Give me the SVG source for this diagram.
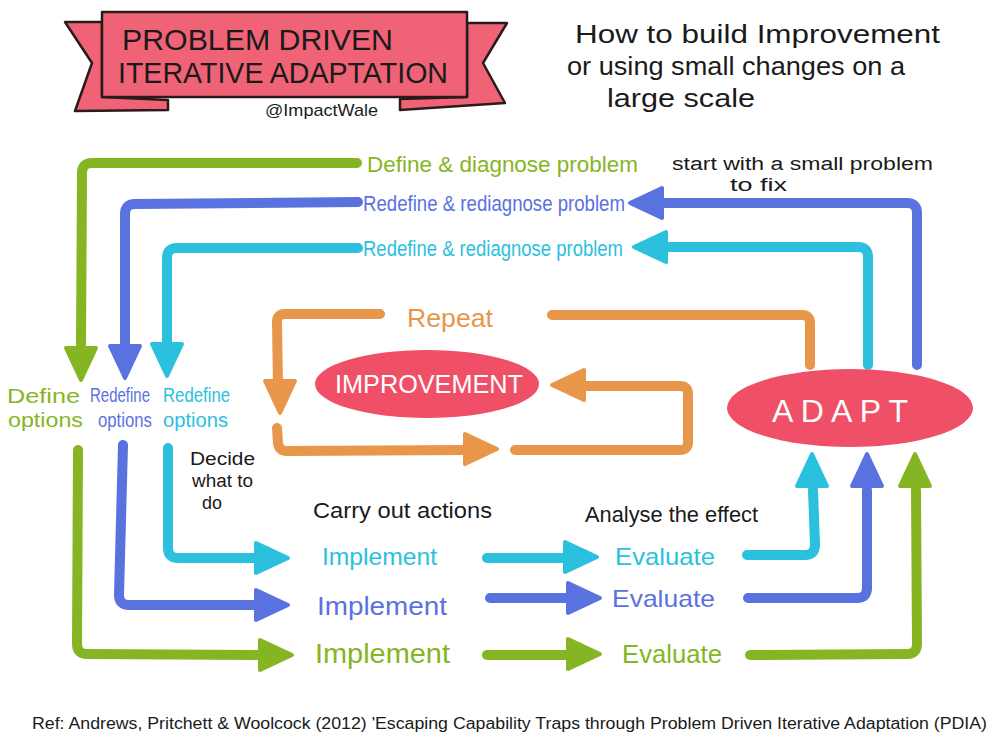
<svg xmlns="http://www.w3.org/2000/svg" width="1000" height="752" viewBox="0 0 1000 752">
<style>
text{font-family:"Liberation Sans","DejaVu Sans",sans-serif;}
.ln{fill:none;stroke-width:10;stroke-linecap:round;stroke-linejoin:round;}
.ah{stroke-width:4;stroke-linejoin:round;}
.g{stroke:#86b524;fill:#86b524;}
.b{stroke:#5a72e0;fill:#5a72e0;}
.c{stroke:#2bc1de;fill:#2bc1de;}
.o{stroke:#e8964a;fill:#e8964a;}
.ln.g,.ln.b,.ln.c,.ln.o{fill:none;}
.tg{fill:#86b524;} .tb{fill:#5a72e0;} .tc{fill:#2bc1de;} .to{fill:#e8964a;} .tk{fill:#1a1a1a;} .tw{fill:#ffffff;}
.banner{fill:#f06377;stroke:#2a1a1a;stroke-width:2.5;stroke-linejoin:round;}
.ell{fill:#ef5068;}
</style>
<defs>
<path id="ah" d="M0,0 L-32,-15 L-32,15 Z"/>
</defs>
<rect width="1000" height="752" fill="#ffffff"/>

<g id="title">
<polygon class="banner" points="65,22 102,22 102,97 168,100 168,110 75,111 92,63"/>
<polygon class="banner" points="507,23 467,23 467,97 400,99 400,110 505,103 483,63"/>
<rect class="banner" x="102" y="12" width="365" height="85"/>
<text class="tk" x="122" y="50" font-size="29" textLength="271" lengthAdjust="spacingAndGlyphs">PROBLEM DRIVEN</text>
<text class="tk" x="118" y="83" font-size="29" textLength="330" lengthAdjust="spacingAndGlyphs">ITERATIVE ADAPTATION</text>
<text class="tk" x="265" y="116" font-size="17" textLength="113" lengthAdjust="spacingAndGlyphs">@ImpactWale</text>
</g>

<g id="subtitle">
<text class="tk" x="575" y="43" font-size="26" textLength="365" lengthAdjust="spacingAndGlyphs">How to build Improvement</text>
<text class="tk" x="567" y="75" font-size="26" textLength="338" lengthAdjust="spacingAndGlyphs">or using small changes on a</text>
<text class="tk" x="607" y="107" font-size="26" textLength="148" lengthAdjust="spacingAndGlyphs">large scale</text>
</g>

<g id="connectors">
<!-- green -->
<path class="ln g" d="M357,163 L92,163 Q82,163 82,173 L81,345"/>
<use href="#ah" class="ah g" transform="translate(81,380) rotate(90)"/>
<path class="ln g" d="M78,450 L77,644 Q77,654 87,654 L262,655"/>
<use href="#ah" class="ah g" transform="translate(292,655)"/>
<path class="ln g" d="M487,655 L572,655"/>
<use href="#ah" class="ah g" transform="translate(600,654)"/>
<path class="ln g" d="M750,655 L907,654 Q917,654 917,644 L916,490"/>
<use href="#ah" class="ah g" transform="translate(915,454) rotate(-90)"/>
<!-- blue -->
<path class="ln b" d="M358,202 L135,204 Q125,204 125,214 L125,345"/>
<use href="#ah" class="ah b" transform="translate(125,378) rotate(90)"/>
<path class="ln b" d="M123,445 L119,595 Q119,605 129,605 L258,605"/>
<use href="#ah" class="ah b" transform="translate(288,605)"/>
<path class="ln b" d="M490,598 L572,598"/>
<use href="#ah" class="ah b" transform="translate(600,598)"/>
<path class="ln b" d="M748,598 L857,598 Q867,598 867,588 L867,490"/>
<use href="#ah" class="ah b" transform="translate(867,454) rotate(-90)"/>
<path class="ln b" d="M917,365 L917,213 Q917,203 907,203 L662,203"/>
<use href="#ah" class="ah b" transform="translate(630,203) rotate(180)"/>
<!-- cyan -->
<path class="ln c" d="M358,248 L177,248 Q167,248 167,258 L167,345"/>
<use href="#ah" class="ah c" transform="translate(167,376) rotate(90)"/>
<path class="ln c" d="M168,448 L168,548 Q168,558 178,558 L258,558"/>
<use href="#ah" class="ah c" transform="translate(288,558)"/>
<path class="ln c" d="M487,558 L568,558"/>
<use href="#ah" class="ah c" transform="translate(597,557)"/>
<path class="ln c" d="M747,555 L805,555 Q815,555 815,545 L813,490"/>
<use href="#ah" class="ah c" transform="translate(812,454) rotate(-90)"/>
<path class="ln c" d="M868,365 L868,257 Q868,247 858,247 L666,247"/>
<use href="#ah" class="ah c" transform="translate(634,247) rotate(180)"/>
<!-- orange loop -->
<path class="ln o" d="M380,314 L285,314 Q277,314 277,322 L278,387"/>
<use href="#ah" class="ah o" transform="translate(280,413) rotate(90)"/>
<path class="ln o" d="M277,428 L278,443 Q279,451 287,451 L467,450"/>
<use href="#ah" class="ah o" transform="translate(497,449)"/>
<path class="ln o" d="M552,315 L802,315 Q810,315 810,323 L810,365"/>
<path class="ln o" d="M585,386 L680,386 Q688,386 688,394 L688,442 Q688,450 680,450 L515,450"/>
<use href="#ah" class="ah o" transform="translate(552,385) rotate(180)"/>
</g>

<g id="problem-labels">
<text class="tg" x="367" y="172" font-size="22" textLength="271" lengthAdjust="spacingAndGlyphs">Define &amp; diagnose problem</text>
<text class="tb" x="363" y="211" font-size="22" textLength="262" lengthAdjust="spacingAndGlyphs">Redefine &amp; rediagnose problem</text>
<text class="tc" x="363" y="256" font-size="22" textLength="260" lengthAdjust="spacingAndGlyphs">Redefine &amp; rediagnose problem</text>
</g>

<g id="start-note">
<text class="tk" x="672" y="170" font-size="18" textLength="261" lengthAdjust="spacingAndGlyphs">start with a small problem</text>
<text class="tk" x="730" y="191" font-size="18" textLength="57" lengthAdjust="spacingAndGlyphs">to fix</text>
</g>

<g id="options-labels">
<text class="tg" x="7" y="403" font-size="20" textLength="73" lengthAdjust="spacingAndGlyphs">Define</text>
<text class="tg" x="8" y="427" font-size="20" textLength="75" lengthAdjust="spacingAndGlyphs">options</text>
<text class="tb" x="90" y="402" font-size="20" textLength="60" lengthAdjust="spacingAndGlyphs">Redefine</text>
<text class="tb" x="98" y="427" font-size="20" textLength="54" lengthAdjust="spacingAndGlyphs">options</text>
<text class="tc" x="163" y="402" font-size="20" textLength="67" lengthAdjust="spacingAndGlyphs">Redefine</text>
<text class="tc" x="163" y="427" font-size="20" textLength="65" lengthAdjust="spacingAndGlyphs">options</text>
</g>

<g id="decide">
<text class="tk" x="190" y="465" font-size="18" textLength="65" lengthAdjust="spacingAndGlyphs">Decide</text>
<text class="tk" x="192" y="487" font-size="18" textLength="61" lengthAdjust="spacingAndGlyphs">what to</text>
<text class="tk" x="202" y="509" font-size="18" textLength="20" lengthAdjust="spacingAndGlyphs">do</text>
</g>

<g id="repeat">
<text class="to" x="407" y="327" font-size="26" textLength="86" lengthAdjust="spacingAndGlyphs">Repeat</text>
</g>

<g id="improvement">
<ellipse class="ell" cx="427" cy="384" rx="112" ry="34"/>
<text class="tw" x="335" y="393" font-size="26" textLength="188" lengthAdjust="spacingAndGlyphs">IMPROVEMENT</text>
</g>

<g id="adapt">
<ellipse class="ell" cx="850" cy="408" rx="123" ry="39"/>
<text class="tw" x="772" y="422" font-size="32" textLength="136">ADAPT</text>
</g>

<g id="headings">
<text class="tk" x="313" y="518" font-size="22" textLength="179" lengthAdjust="spacingAndGlyphs">Carry out actions</text>
<text class="tk" x="585" y="522" font-size="22" textLength="173" lengthAdjust="spacingAndGlyphs">Analyse the effect</text>
</g>

<g id="implement">
<text class="tc" x="322" y="565" font-size="24" textLength="115" lengthAdjust="spacingAndGlyphs">Implement</text>
<text class="tb" x="317" y="615" font-size="26" textLength="130" lengthAdjust="spacingAndGlyphs">Implement</text>
<text class="tg" x="315" y="663" font-size="27" textLength="135" lengthAdjust="spacingAndGlyphs">Implement</text>
</g>

<g id="evaluate">
<text class="tc" x="615" y="565" font-size="24" textLength="100" lengthAdjust="spacingAndGlyphs">Evaluate</text>
<text class="tb" x="612" y="607" font-size="24" textLength="103" lengthAdjust="spacingAndGlyphs">Evaluate</text>
<text class="tg" x="622" y="663" font-size="26" textLength="100" lengthAdjust="spacingAndGlyphs">Evaluate</text>
</g>

<g id="reference">
<text class="tk" x="32" y="729" font-size="16" textLength="955" lengthAdjust="spacingAndGlyphs">Ref:  Andrews, Pritchett &amp; Woolcock (2012)  'Escaping Capability Traps through Problem Driven Iterative Adaptation (PDIA)</text>
</g>
</svg>
